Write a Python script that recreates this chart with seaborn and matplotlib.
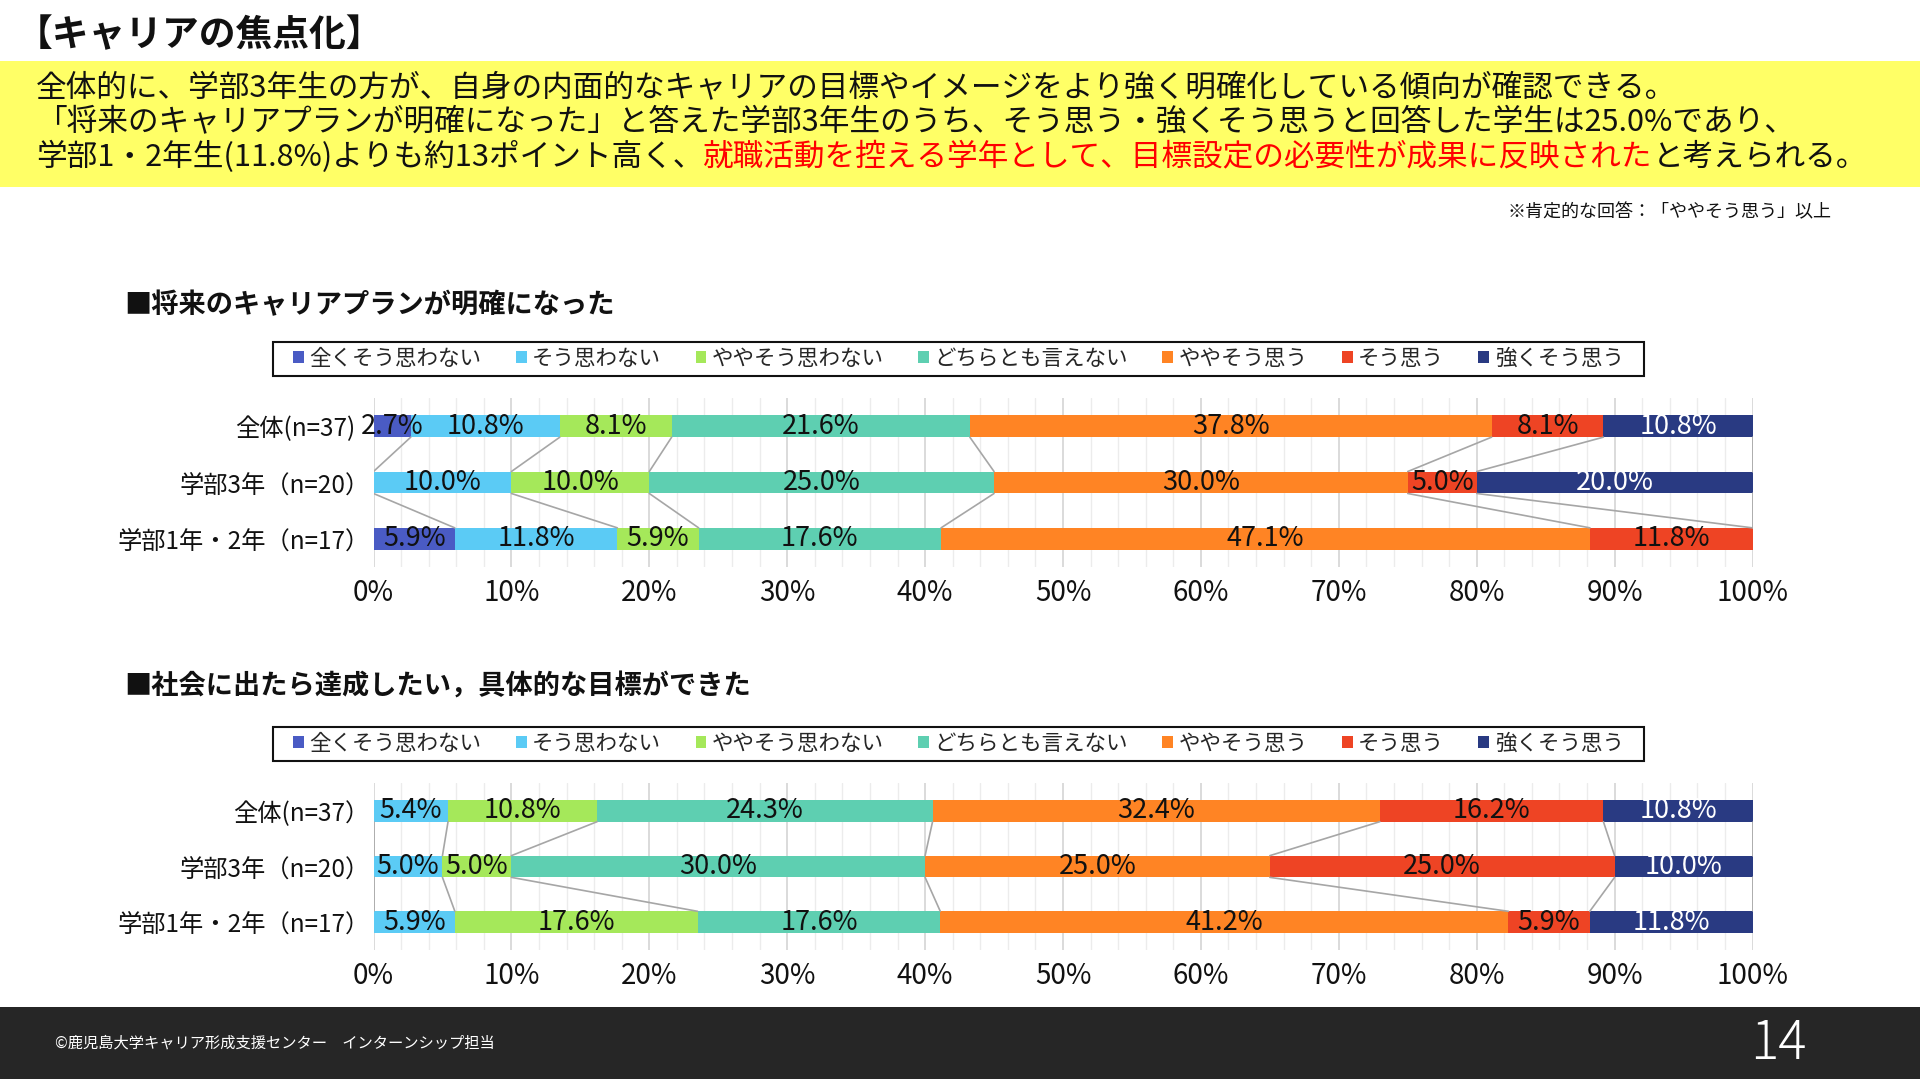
import numpy as np
import pandas as pd
import matplotlib
matplotlib.use("Agg")
import matplotlib.pyplot as plt
import matplotlib.transforms as mtransforms
import seaborn as sns
from matplotlib.patches import Patch, Rectangle

# ---------------- data ----------------
categories = ["全くそう思わない", "そう思わない", "ややそう思わない", "どちらとも言えない",
              "ややそう思う", "そう思う", "強くそう思う"]
colors = ["#4A5BC4", "#5BCBF5", "#A5E85A", "#5ECFB1", "#FF8424", "#EE4424", "#293A82"]
label_colors = ["#111111"] * 6 + ["#FFFFFF"]

groups1 = ["全体(n=37)", "学部3年（n=20）", "学部1年・2年（n=17）"]
groups2 = ["全体(n=37）", "学部3年（n=20）", "学部1年・2年（n=17）"]

q1_zenku = [2.7, 0.0, 5.9]
q1_sou_omowanai = [10.8, 10.0, 11.8]
q1_yaya_omowanai = [8.1, 10.0, 5.9]
q1_dochira = [21.6, 25.0, 17.6]
q1_yaya_omou = [37.8, 30.0, 47.1]
q1_sou_omou = [8.1, 5.0, 11.8]
q1_tsuyoku = [10.8, 20.0, 0.0]

q2_zenku = [0.0, 0.0, 0.0]
q2_sou_omowanai = [5.4, 5.0, 5.9]
q2_yaya_omowanai = [10.8, 5.0, 17.6]
q2_dochira = [24.3, 30.0, 17.6]
q2_yaya_omou = [32.4, 25.0, 41.2]
q2_sou_omou = [16.2, 25.0, 5.9]
q2_tsuyoku = [10.8, 10.0, 11.8]

xtick_values = list(range(0, 101, 10))
xtick_labels = [f"{v}%" for v in xtick_values]

title = "【キャリアの焦点化】"
body_line1 = "全体的に、学部3年生の方が、自身の内面的なキャリアの目標やイメージをより強く明確化している傾向が確認できる。"
body_line2 = "「将来のキャリアプランが明確になった」と答えた学部3年生のうち、そう思う・強くそう思うと回答した学生は25.0%であり、"
body_line3 = [("学部1・2年生(11.8%)よりも約13ポイント高く、", "#111111"),
              ("就職活動を控える学年として、目標設定の必要性が成果に反映された", "#FF0000"),
              ("と考えられる。", "#111111")]
note = "※肯定的な回答：「ややそう思う」以上"
subtitle1 = "■将来のキャリアプランが明確になった"
subtitle2 = "■社会に出たら達成したい，具体的な目標ができた"
footer = "©鹿児島大学キャリア形成支援センター　インターンシップ担当"
page_no = "14"

# ---------------- setup ----------------
sns.set_theme(style="white")
plt.rcParams['font.family'] = ['Noto Sans CJK JP', 'DejaVu Sans']

W, H = 1920, 1079
fig = plt.figure(figsize=(W / 100, H / 100), dpi=100)
fig.patch.set_facecolor("white")


def fx(px):
    return px / W


def fy(py):
    return 1 - py / H


# title
fig.text(fx(16), fy(36), title, fontsize=26.5, fontweight="bold", va="center", ha="left", color="#111111")

# yellow band
fig.add_artist(Rectangle((0, fy(187)), 1, (187 - 61) / H, transform=fig.transFigure,
                         facecolor="#FFFF66", edgecolor="none", zorder=0))
fig.text(fx(36), fy(89), body_line1, fontsize=22.1, va="center", ha="left", color="#111111")
fig.text(fx(36), fy(123), body_line2, fontsize=22.1, va="center", ha="left", color="#111111")
renderer = fig.canvas.get_renderer()
xcur = 36
for s, c in body_line3:
    t = fig.text(fx(xcur), fy(157), s, fontsize=22.1, va="center", ha="left", color=c)
    bb = t.get_window_extent(renderer=renderer)
    xcur = bb.x1

fig.text(fx(1832), fy(212), note, fontsize=13, va="center", ha="right", color="#111111")

# footer
fig.add_artist(Rectangle((0, 0), 1, (1079 - 1007) / H, transform=fig.transFigure,
                         facecolor="#262626", edgecolor="none", zorder=0))
fig.text(fx(55), fy(1043), footer, fontsize=11, va="center", ha="left", color="white")
fig.text(fx(1778), fy(1044), page_no, fontsize=38, va="center", ha="center", color="white",
         fontweight="light")

BAR_H = 0.39


def draw_chart(top_px, bottom_px, groups, series, subtitle, sub_y, legend_top, legend_bot,
               first_label_shift=0):
    ax = fig.add_axes([fx(373.5), fy(bottom_px), (1752.5 - 373.5) / W, (bottom_px - top_px) / H])
    vals = np.array(series, dtype=float).T  # rows x categories
    df = pd.DataFrame(vals, columns=categories)
    df["group"] = groups
    totals = df[categories].sum(axis=1)
    cum = df[categories].cumsum(axis=1).div(totals, axis=0) * 100
    cum_arr = cum.values
    for k in reversed(range(len(categories))):
        sns.barplot(x=cum_arr[:, k], y=groups, color=colors[k], width=BAR_H, saturation=1,
                    orient="h", linewidth=0, errorbar=None, ax=ax, zorder=2)
    # data labels
    for i in range(len(groups)):
        prev = 0.0
        for k in range(len(categories)):
            v = vals[i, k]
            if v > 0:
                ctr = (prev + cum_arr[i, k]) / 2
                ax.text(ctr, i, f"{v:.1f}%", ha="center", va="center", fontsize=19.5,
                        color=label_colors[k], zorder=5)
            prev = cum_arr[i, k]
    # series lines
    for k in range(len(categories)):
        for i in range(len(groups) - 1):
            ax.plot([cum_arr[i, k], cum_arr[i + 1, k]], [i + BAR_H / 2, i + 1 - BAR_H / 2],
                    color="#a6a6a6", lw=1.2, zorder=3)
    ax.set_xlim(0, 100)
    ax.set_ylim(2.5, -0.5)
    ax.set_xticks(xtick_values)
    ax.set_xticklabels(xtick_labels, fontsize=20, color="#111111")
    ax.set_xticks(np.arange(0, 101, 2), minor=True)
    ax.tick_params(axis="y", labelsize=17.5, labelcolor="#111111", length=0, pad=3)
    ax.tick_params(axis="x", which="both", length=0, pad=8)
    ax.grid(which="major", axis="x", color="#d4d4d4", lw=1.2)
    ax.grid(which="minor", axis="x", color="#ececec", lw=1.0)
    ax.grid(axis="y", visible=False)
    ax.set_axisbelow(True)
    for sp in ax.spines.values():
        sp.set_visible(False)
    ax.set_xlabel("")
    ax.set_ylabel("")
    ax.set_facecolor("none")
    if first_label_shift:
        offset = mtransforms.ScaledTranslation(-first_label_shift / 100, 0, fig.dpi_scale_trans)
        lbl = ax.get_yticklabels()[0]
        lbl.set_transform(lbl.get_transform() + offset)

    fig.text(fx(124), fy(sub_y), subtitle, fontsize=19.6, fontweight="bold", va="center", ha="left",
             color="#111111")
    fig.add_artist(Rectangle((fx(273), fy(legend_bot)), (1644 - 273) / W, (legend_bot - legend_top) / H,
                             transform=fig.transFigure, fill=False, edgecolor="#111111", lw=1.5))
    handles = [Patch(facecolor=c, edgecolor="none") for c in colors]
    fig.legend(handles, categories, loc="center",
               bbox_to_anchor=(fx(958.5), fy((legend_top + legend_bot) / 2)),
               ncol=7, frameon=False, fontsize=15.5, handlelength=0.5, handleheight=0.5,
               handletextpad=0.25, columnspacing=1.6)
    return ax


draw_chart(398, 567, groups1,
           [q1_zenku, q1_sou_omowanai, q1_yaya_omowanai, q1_dochira, q1_yaya_omou, q1_sou_omou, q1_tsuyoku],
           subtitle1, 305, 342, 376, first_label_shift=14)
draw_chart(783, 950, groups2,
           [q2_zenku, q2_sou_omowanai, q2_yaya_omowanai, q2_dochira, q2_yaya_omou, q2_sou_omou, q2_tsuyoku],
           subtitle2, 687, 727, 761)

fig.savefig("out.png", dpi=100, facecolor="white")
